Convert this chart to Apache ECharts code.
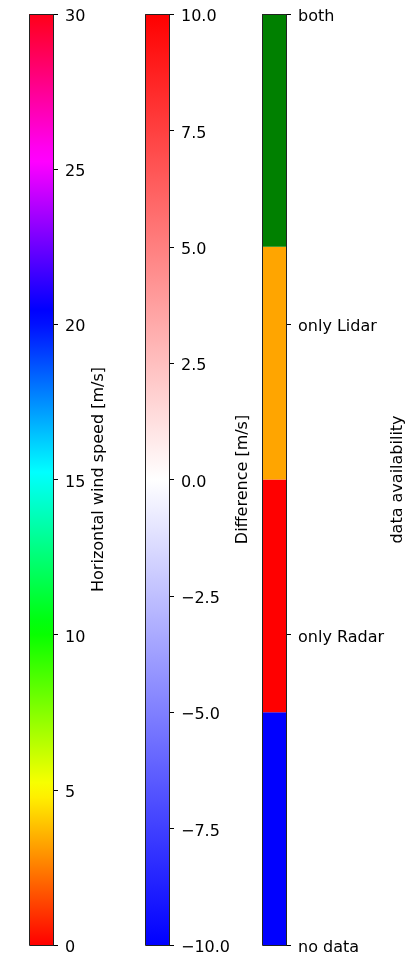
<!DOCTYPE html>
<html>
<head>
<meta charset="utf-8">
<script src="https://cdn.jsdelivr.net/npm/echarts@6/dist/echarts.min.js"></script>
<style>html,body{margin:0;padding:0;background:#fff;}#c{width:408px;height:956px;}</style>
</head>
<body>
<div id="c"></div>
<script>
// ---- data ----
const speedRange = [0, 30];
const speedInterval = 5;
const speedLabel = 'Horizontal wind speed [m/s]';
// matplotlib "hsv" colormap key points
const hsvOffsets = [0, 0.158730, 0.174603, 0.333333, 0.349206, 0.507937, 0.666667, 0.682540, 0.841270, 0.857143, 1];
const hsvColors  = ['#ff0000', '#ffef00', '#f7ff00', '#08ff00', '#00ff10', '#00ffff', '#0010ff', '#0000ff', '#ff00ff', '#ff00ef', '#ff0018'];

const diffRange = [-10, 10];
const diffInterval = 2.5;
const diffLabel = 'Difference [m/s]';
// matplotlib "bwr" colormap
const bwrOffsets = [0, 0.5, 1];
const bwrColors  = ['#0000ff', '#ffffff', '#ff0000'];

const availRange = [0, 3];
const availClasses = ['no data', 'only Radar', 'only Lidar', 'both'];
const availBounds  = [0, 0.75, 1.5, 2.25, 3];
const availColors  = ['#0000ff', '#ff0000', '#ffa500', '#008000'];
const availLabel = 'data availability';

// ---- chart ----
const FONT = 'DejaVu Sans';
const chart = echarts.init(document.getElementById('c'), null, {renderer: 'canvas'});

function grad(offsets, colors) {
  return new echarts.graphic.LinearGradient(0, 1, 0, 0,
    offsets.map((o, i) => ({offset: o, color: colors[i]})));
}

function segRender(params, api) {
  const lo = api.coord([0, api.value(1)]);
  const hi = api.coord([0, api.value(2)]);
  const w = api.size([1, 0])[0];
  return {
    type: 'rect',
    shape: {x: lo[0] - w / 2, y: hi[1], width: w, height: lo[1] - hi[1]},
    style: {fill: api.style().fill}
  };
}
function frameRender(params, api) {
  const lo = api.coord([0, api.value(1)]);
  const hi = api.coord([0, api.value(2)]);
  const w = api.size([1, 0])[0];
  return {
    type: 'rect',
    shape: {x: Math.round(lo[0] - w / 2) + 0.5, y: Math.round(hi[1]) + 0.5, width: Math.round(w), height: Math.round(lo[1] - hi[1])},
    style: {fill: null, stroke: '#222', lineWidth: 1}
  };
}

const barTop = 14, barHeight = 934, barWidth = 24;
const barLefts = [29, 145, 262];

function makeYAxis(idx, range, interval, name, nameGap, fmt) {
  return {
    type: 'value', gridIndex: idx, position: 'right', min: range[0], max: range[1], interval: interval,
    name: name, nameLocation: 'middle', nameRotate: 90, nameGap: nameGap,
    nameTextStyle: {fontFamily: FONT, fontSize: 16, color: '#000'},
    axisLine: {show: false},
    axisTick: {show: true, length: 5, lineStyle: {color: '#000', width: 1}},
    axisLabel: {show: true, margin: 12, fontFamily: FONT, fontSize: 16, color: '#000', formatter: fmt,
      verticalAlign: 'top', lineHeight: 6},
    splitLine: {show: false}
  };
}

const seriesList = [];
seriesList.push({type: 'custom', xAxisIndex: 0, yAxisIndex: 0, renderItem: segRender,
  itemStyle: {color: grad(hsvOffsets, hsvColors)}, data: [[0, speedRange[0], speedRange[1]]], z: 2});
seriesList.push({type: 'custom', xAxisIndex: 0, yAxisIndex: 0, renderItem: frameRender, data: [[0, speedRange[0], speedRange[1]]], z: 3});
seriesList.push({type: 'custom', xAxisIndex: 1, yAxisIndex: 1, renderItem: segRender,
  itemStyle: {color: grad(bwrOffsets, bwrColors)}, data: [[0, diffRange[0], diffRange[1]]], z: 2});
seriesList.push({type: 'custom', xAxisIndex: 1, yAxisIndex: 1, renderItem: frameRender, data: [[0, diffRange[0], diffRange[1]]], z: 3});
seriesList.push({type: 'custom', xAxisIndex: 2, yAxisIndex: 2, renderItem: segRender,
  data: availColors.map((c, i) => ({value: [0, availBounds[i], availBounds[i + 1]], itemStyle: {color: c}})), z: 2});
seriesList.push({type: 'custom', xAxisIndex: 2, yAxisIndex: 2, renderItem: frameRender, data: [[0, availRange[0], availRange[1]]], z: 3});

const minusFmt = v => String(v.toFixed(1)).replace('-', '\u2212');

chart.setOption({
  animation: false,
  grid: barLefts.map(l => ({left: l, top: barTop, width: barWidth, height: barHeight, containLabel: false})),
  xAxis: barLefts.map((l, i) => ({type: 'category', gridIndex: i, data: [''], show: false, boundaryGap: true})),
  yAxis: [
    makeYAxis(0, speedRange, speedInterval, speedLabel, 38, v => String(v)),
    makeYAxis(1, diffRange, diffInterval, diffLabel, 66, minusFmt),
    makeYAxis(2, availRange, 1, availLabel, 104, v => availClasses[Math.round(v)])
  ],
  series: seriesList
});
</script>
</body>
</html>
